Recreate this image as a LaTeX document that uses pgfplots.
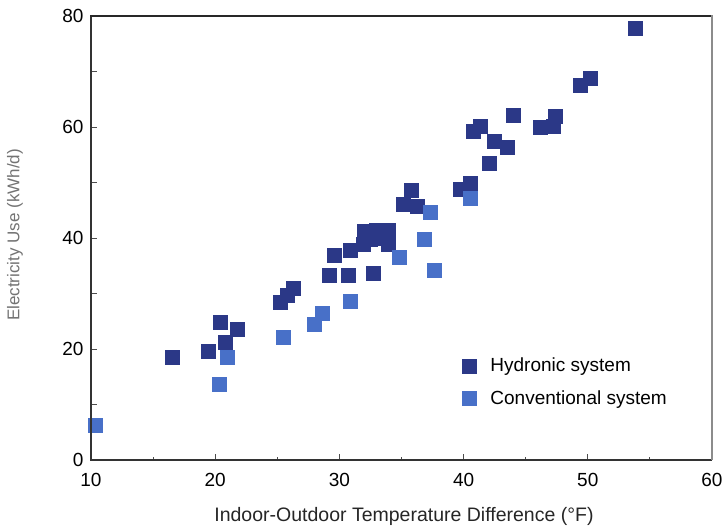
\documentclass[border=0pt]{standalone}
\usepackage{fontspec}
\setmainfont{Liberation Sans}
\usepackage{pgfplots}
\pgfplotsset{compat=1.18}
\definecolor{hydro}{RGB}{43,56,135}
\definecolor{conv}{RGB}{72,112,200}
\definecolor{frametop}{RGB}{40,40,40}
\definecolor{frameright}{RGB}{140,140,140}

\begin{document}
\begin{tikzpicture}
\begin{axis}[
  scale only axis, width=621pt, height=444pt,
  xmin=10, xmax=60, ymin=0, ymax=80,
  clip=false,
  axis line style={draw=none},
  xtick={10,20,...,60}, ytick={0,10,...,80},
  yticklabels={0,,20,,40,,60,,80},
  minor xtick={15,25,...,55},
  tick align=inside, xtick pos=bottom, ytick pos=left,
  major tick length=6pt, minor tick length=3pt,
  tick style={line width=0.9pt, black!70},
  /pgf/number format/assume math mode=true,
  ticklabel style={font=\fontsize{19}{21}\selectfont},
  xticklabel style={yshift=-10pt},
  yticklabel style={xshift=-4pt},
  xlabel={Indoor-Outdoor Temperature Difference (°F)},
  xlabel style={at={(axis description cs:0.504,-0.1396)}, anchor=base,
    font=\fontsize{19.5}{22}\selectfont, text=black!85},
  ylabel={Electricity Use (kWh/d)},
  ylabel style={at={(axis description cs:-0.1224,0.507)}, anchor=center,
    font=\fontsize{17}{19}\selectfont, text=black!55},
  legend style={draw=none, fill=none, at={(axis description cs:0.593,0.239)},
    anchor=north west, font=\fontsize{19}{21}\selectfont, row sep=13pt,
    /tikz/every odd column/.append style={column sep=12pt}},
  legend cell align=left,
]
% hydronic system
\addplot[only marks, mark=square*, mark size=7pt, color=hydro] coordinates {
(16.5,18.6) (19.4,19.6) (20.4,24.9) (20.8,21.3) (21.8,23.6)
(25.2,28.5) (25.8,29.7) (26.3,31.0)
(29.2,33.3) (30.7,33.3) (29.6,36.9) (30.9,37.8) (31.9,38.8) (32.0,41.2)
(33.0,40.0) (33.0,41.4) (33.9,41.4) (33.9,38.8) (32.5,39.8) (32.7,33.7)
(35.1,46.1) (35.8,48.6) (36.3,45.8)
(39.7,48.8) (40.5,49.9)
(40.8,59.3) (41.3,60.2) (42.5,57.4) (43.5,56.3) (42.1,53.5) (44.0,62.2)
(46.2,60.0) (47.2,60.2) (47.4,61.9)
(49.4,67.6) (50.2,68.8) (53.8,77.8)};
\addlegendentry{Hydronic system}
% conventional system
\addplot[only marks, mark=square*, mark size=7pt, color=conv] coordinates {
(10.3,6.3) (20.3,13.7) (21.0,18.6) (25.5,22.2) (28.0,24.5) (28.6,26.5)
(30.9,28.6) (34.8,36.6) (36.8,39.8) (37.6,34.2) (37.3,44.7) (40.5,47.2)};
\addlegendentry{Conventional system}
\end{axis}
% frame round the axis box (621pt x 444pt at the origin)
\draw[line width=1.6pt, black!80] (0,444pt) -- (0,0) -- (621pt,0);
\fill[frametop] (-0.8pt,442.8pt) rectangle (621pt,445.2pt);
\fill[frameright] (619.8pt,0pt) rectangle (622.2pt,445.2pt);
\pgfresetboundingbox
\path[use as bounding box] (-91pt,-67pt) rectangle (634pt,460pt);
\end{tikzpicture}
\end{document}
